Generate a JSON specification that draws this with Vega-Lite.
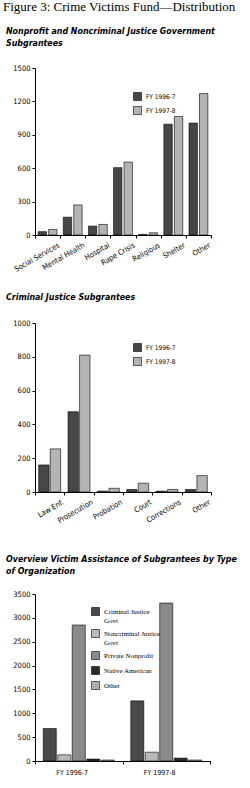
{
  "$schema": "https://vega.github.io/schema/vega-lite/v6.json",
  "padding": {"left": 3, "top": 1, "right": 0, "bottom": 0},
  "background": "white",
  "title": {"text": "Figure 3: Crime Victims Fund—Distribution", "anchor": "start", "frame": "group", "font": "Liberation Serif", "fontSize": 13, "fontWeight": "normal", "fontStyle": "normal", "color": "black", "offset": 13, "dx": -32},
  "config": {
    "view": {"stroke": null},
    "axis": {"domainColor": "black", "tickColor": "black", "labelColor": "black", "labelFont": "DejaVu Sans Condensed", "labelFontSize": 7.5, "grid": false, "tickSize": 3, "title": null, "labelPadding": 2},
    "legend": {"labelFont": "DejaVu Sans Condensed", "labelFontSize": 6.5, "labelColor": "black", "symbolType": "square", "symbolSize": 64, "symbolStrokeColor": "black", "symbolStrokeWidth": 0.6, "title": null},
    "title": {"font": "DejaVu Sans Condensed", "fontSize": 8.8, "fontWeight": "bold", "fontStyle": "italic", "anchor": "start", "frame": "group", "color": "black", "lineHeight": 12}
  },
  "resolve": {"scale": {"color": "independent", "x": "independent", "y": "independent", "xOffset": "independent"}, "legend": {"color": "independent"}},
  "spacing": 30,
  "vconcat": [
    {
      "resolve": {"scale": {"color": "independent", "x": "independent", "y": "independent", "xOffset": "independent"}, "legend": {"color": "independent"}},
      "spacing": 20,
      "vconcat": [
        {
          "title": {"text": ["Nonprofit and Noncriminal Justice Government", "Subgrantees"], "offset": 16, "dx": -29},
          "width": 176, "height": 167,
          "data": {"values": [
            {"category": "Social Services", "year": "FY 1996-7", "value": 30},
            {"category": "Social Services", "year": "FY 1997-8", "value": 50},
            {"category": "Mental Health", "year": "FY 1996-7", "value": 160},
            {"category": "Mental Health", "year": "FY 1997-8", "value": 270},
            {"category": "Hospital", "year": "FY 1996-7", "value": 80},
            {"category": "Hospital", "year": "FY 1997-8", "value": 95},
            {"category": "Rape Crisis", "year": "FY 1996-7", "value": 605},
            {"category": "Rape Crisis", "year": "FY 1997-8", "value": 655},
            {"category": "Religious", "year": "FY 1996-7", "value": 5},
            {"category": "Religious", "year": "FY 1997-8", "value": 20},
            {"category": "Shelter", "year": "FY 1996-7", "value": 995},
            {"category": "Shelter", "year": "FY 1997-8", "value": 1065},
            {"category": "Other", "year": "FY 1996-7", "value": 1005},
            {"category": "Other", "year": "FY 1997-8", "value": 1270}
          ]},
          "mark": {"type": "bar", "stroke": "black", "strokeWidth": 0.6},
          "encoding": {
            "x": {"field": "category", "type": "nominal", "sort": ["Social Services", "Mental Health", "Hospital", "Rape Crisis", "Religious", "Shelter", "Other"], "scale": {"paddingInner": 0, "paddingOuter": 0}, "axis": {"labelAngle": -30, "labelAlign": "right", "tickBand": "extent", "labelPadding": 3, "labelOffset": 9}},
            "xOffset": {"field": "year", "scale": {"paddingInner": 0.2, "paddingOuter": 0.3}},
            "y": {"field": "value", "type": "quantitative", "scale": {"domain": [0, 1500]}, "axis": {"values": [0, 300, 600, 900, 1200, 1500], "format": "d"}},
            "color": {"field": "year", "scale": {"range": ["#474747", "#b4b4b4"]}, "legend": {"orient": "none", "legendX": 98, "legendY": 24, "rowPadding": 3}}
          }
        },
        {
          "title": {"text": "Criminal Justice Subgrantees", "offset": 17, "dx": -29},
          "width": 176, "height": 169,
          "data": {"values": [
            {"category": "Law Enf.", "year": "FY 1996-7", "value": 160},
            {"category": "Law Enf.", "year": "FY 1997-8", "value": 255},
            {"category": "Prosecution", "year": "FY 1996-7", "value": 475},
            {"category": "Prosecution", "year": "FY 1997-8", "value": 810},
            {"category": "Probation", "year": "FY 1996-7", "value": 5},
            {"category": "Probation", "year": "FY 1997-8", "value": 22},
            {"category": "Court", "year": "FY 1996-7", "value": 15},
            {"category": "Court", "year": "FY 1997-8", "value": 52},
            {"category": "Corrections", "year": "FY 1996-7", "value": 5},
            {"category": "Corrections", "year": "FY 1997-8", "value": 15},
            {"category": "Other", "year": "FY 1996-7", "value": 15},
            {"category": "Other", "year": "FY 1997-8", "value": 97}
          ]},
          "mark": {"type": "bar", "stroke": "black", "strokeWidth": 0.6},
          "encoding": {
            "x": {"field": "category", "type": "nominal", "sort": ["Law Enf.", "Prosecution", "Probation", "Court", "Corrections", "Other"], "scale": {"paddingInner": 0, "paddingOuter": 0}, "axis": {"labelAngle": -30, "labelAlign": "right", "tickBand": "extent", "labelPadding": 3, "labelOffset": 11}},
            "xOffset": {"field": "year", "scale": {"paddingInner": 0.1, "paddingOuter": 0.32}},
            "y": {"field": "value", "type": "quantitative", "scale": {"domain": [0, 1000]}, "axis": {"values": [0, 200, 400, 600, 800, 1000], "format": "d"}},
            "color": {"field": "year", "scale": {"range": ["#474747", "#b4b4b4"]}, "legend": {"orient": "none", "legendX": 98, "legendY": 20, "rowPadding": 3}}
          }
        }
      ]
    },
    {
      "title": {"text": ["Overview Victim Assistance of Subgrantees by Type", "of Organization"], "offset": 14, "dx": -29},
      "width": 175, "height": 167,
      "data": {"values": [
        {"year": "FY 1996-7", "type": "Criminal Justice Govt", "value": 680},
        {"year": "FY 1996-7", "type": "Noncriminal Justice Govt", "value": 130},
        {"year": "FY 1996-7", "type": "Private Nonprofit", "value": 2850},
        {"year": "FY 1996-7", "type": "Native American", "value": 40},
        {"year": "FY 1996-7", "type": "Other", "value": 20},
        {"year": "FY 1997-8", "type": "Criminal Justice Govt", "value": 1260},
        {"year": "FY 1997-8", "type": "Noncriminal Justice Govt", "value": 185},
        {"year": "FY 1997-8", "type": "Private Nonprofit", "value": 3310},
        {"year": "FY 1997-8", "type": "Native American", "value": 60},
        {"year": "FY 1997-8", "type": "Other", "value": 20}
      ]},
      "mark": {"type": "bar", "stroke": "black", "strokeWidth": 0.6},
      "encoding": {
        "x": {"field": "year", "type": "nominal", "scale": {"paddingInner": 0, "paddingOuter": 0}, "axis": {"labelAngle": 0, "tickBand": "extent", "labelFontSize": 7, "labelPadding": 4, "labelOffset": -7}},
        "xOffset": {"field": "type", "sort": ["Criminal Justice Govt", "Noncriminal Justice Govt", "Private Nonprofit", "Native American", "Other"], "scale": {"paddingInner": 0.1, "paddingOuter": 0.57}},
        "y": {"field": "value", "type": "quantitative", "scale": {"domain": [0, 3500]}, "axis": {"values": [0, 500, 1000, 1500, 2000, 2500, 3000, 3500], "format": "d"}},
        "color": {"field": "type", "sort": ["Criminal Justice Govt", "Noncriminal Justice Govt", "Private Nonprofit", "Native American", "Other"], "scale": {"range": ["#4a4a4a", "#b8b8b8", "#8a8a8a", "#2a2a2a", "#b0b0b0"]}, "legend": {"orient": "none", "legendX": 56, "legendY": 13, "rowPadding": 4, "labelFont": "Liberation Serif", "labelFontSize": 7, "labelExpr": "datum.label == 'Criminal Justice Govt' ? ['Criminal Justice', 'Govt'] : datum.label == 'Noncriminal Justice Govt' ? ['Noncriminal Justice', 'Govt'] : datum.label"}}
      }
    }
  ]
}
